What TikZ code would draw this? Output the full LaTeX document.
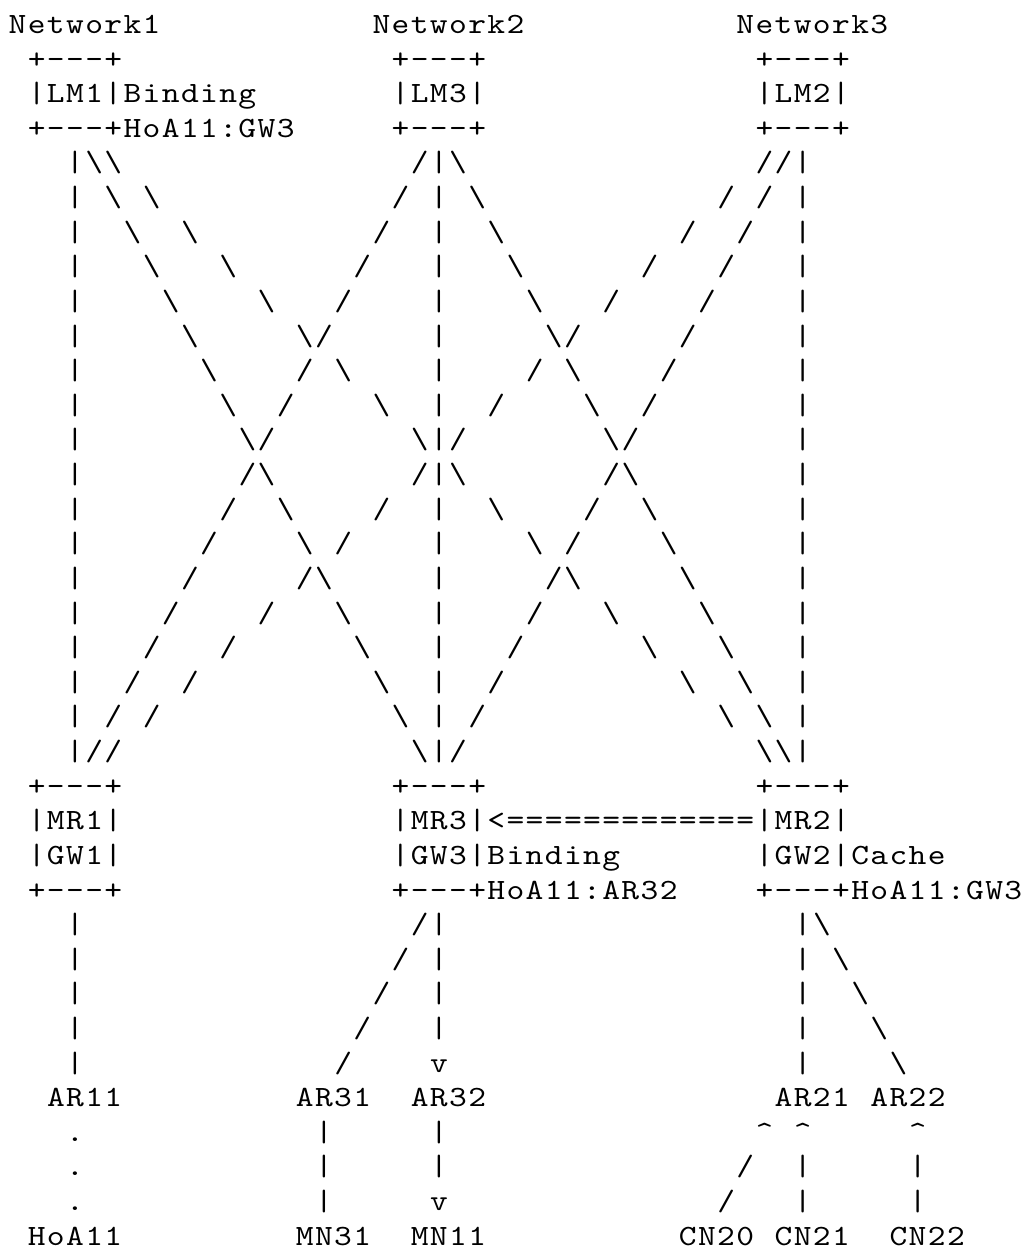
\documentclass[tikz,border=0pt]{standalone}
\usepackage{fontspec}
\newfontfamily\asciifont{lmmono10-regular.otf}[FakeStretch=1.15]
\makeatletter
\newlength\cellw
\setlength\cellw{9.575pt}
\newcommand\monostr[1]{\@tfor\mnch:=#1\do{\makebox[\cellw][c]{\mnch}}}
\makeatother
\newcommand\tok[3]{\node[tok] (t#1-#2) at ({8+19.15*(#2)},{33.5+34.62*(#1)}) {\monostr{#3}};}
\begin{document}
\begin{tikzpicture}[x=0.5pt,y=-0.5pt,
  tok/.style={anchor=base west,inner sep=0pt,outer sep=0pt,
    font={\asciifont\fontsize{14.7pt}{15pt}\selectfont}}]
\fill[white] (0,0) rectangle (1029,1250);
\useasboundingbox (0,0) rectangle (1029,1250);
% top
\tok{0}{0}{Network1}\tok{0}{19}{Network2}\tok{0}{38}{Network3}
\tok{1}{1}{+---+}\tok{1}{20}{+---+}\tok{1}{39}{+---+}
\tok{2}{1}{|LM1|Binding}\tok{2}{20}{|LM3|}\tok{2}{39}{|LM2|}
\tok{3}{1}{+---+HoA11:GW3}\tok{3}{20}{+---+}\tok{3}{39}{+---+}
% crossing lines
\foreach \r in {4,...,21}{
  \pgfmathtruncatemacro\dgA{\r}
  \pgfmathtruncatemacro\dgB{2*\r-3}
  \pgfmathtruncatemacro\dgC{25-\r}
  \pgfmathtruncatemacro\dgD{\r+19}
  \pgfmathtruncatemacro\dgE{47-2*\r}
  \pgfmathtruncatemacro\dgF{44-\r}
  \tok{\r}{3}{|}
  \tok{\r}{\dgA}{\textbackslash}
  \tok{\r}{\dgB}{\textbackslash}
  \tok{\r}{\dgC}{/}
  \tok{\r}{22}{|}
  \tok{\r}{\dgD}{\textbackslash}
  \tok{\r}{\dgE}{/}
  \tok{\r}{\dgF}{/}
  \tok{\r}{41}{|}
}
% middle boxes
\tok{22}{1}{+---+}\tok{22}{20}{+---+}\tok{22}{39}{+---+}
\tok{23}{1}{|MR1|}\tok{23}{20}{|MR3|<=============|MR2|}
\tok{24}{1}{|GW1|}\tok{24}{20}{|GW3|Binding}\tok{24}{39}{|GW2|Cache}
\tok{25}{1}{+---+}\tok{25}{20}{+---+HoA11:AR32}\tok{25}{39}{+---+HoA11:GW3}
% below boxes
\foreach \r in {26,...,30}{\tok{\r}{3}{|}\tok{\r}{41}{|}}
\foreach \r in {26,...,29}{\tok{\r}{22}{|}}
\tok{30}{22}{v}
\foreach \r in {26,...,30}{
  \pgfmathtruncatemacro\dgG{47-\r}
  \pgfmathtruncatemacro\dgH{\r+16}
  \tok{\r}{\dgG}{/}
  \tok{\r}{\dgH}{\textbackslash}
}
\tok{31}{2}{AR11}\tok{31}{15}{AR31}\tok{31}{21}{AR32}\tok{31}{40}{AR21}\tok{31}{45}{AR22}
\foreach \r in {32,33,34}{\tok{\r}{3}{.}\tok{\r}{16}{|}}
\tok{32}{22}{|}\tok{33}{22}{|}\tok{34}{22}{v}
\tok{32}{39}{\textasciicircum}\tok{32}{41}{\textasciicircum}\tok{32}{47}{\textasciicircum}
\tok{33}{38}{/}\tok{34}{37}{/}
\foreach \r in {33,34}{\tok{\r}{41}{|}\tok{\r}{47}{|}}
\tok{35}{1}{HoA11}\tok{35}{15}{MN31}\tok{35}{21}{MN11}\tok{35}{35}{CN20}\tok{35}{40}{CN21}\tok{35}{46}{CN22}
\end{tikzpicture}
\end{document}
